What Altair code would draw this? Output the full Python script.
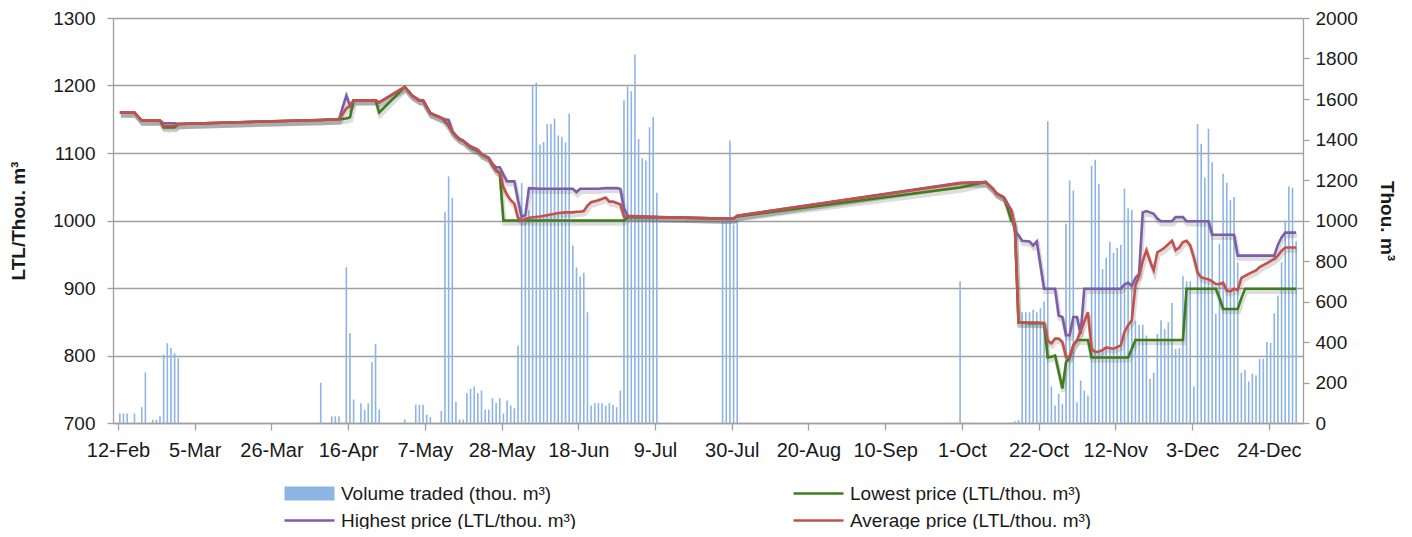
import altair as alt
import pandas as pd

# ---------------- data ----------------
START = "2014-02-12"          # day 0 of the day offsets below
END = "2015-01-01"

TITLE = "Information on Fulfilled Deals on the GET Baltic Exchange, Q1-Q4 of 2014"
VOL = "Volume traded (thou. m³)"
LOW = "Lowest price (LTL/thou. m³)"
HIGH = "Highest price (LTL/thou. m³)"
AVG = "Average price (LTL/thou. m³)"

# x-axis tick dates (labels shown as d-Mon)
tick_dates = ["2014-02-12", "2014-03-05", "2014-03-26", "2014-04-16", "2014-05-07",
              "2014-05-28", "2014-06-18", "2014-07-09", "2014-07-30", "2014-08-20",
              "2014-09-10", "2014-10-01", "2014-10-22", "2014-11-12", "2014-12-03",
              "2014-12-24"]
left_ticks = [700, 800, 900, 1000, 1100, 1200, 1300]
right_ticks = [0, 200, 400, 600, 800, 1000, 1200, 1400, 1600, 1800, 2000]

# traded volume, thou. m3 (day offset from 12-Feb-2014)
vol_day = ([0, 1, 2, 4, 6, 7, 9, 10, 11, 12, 13, 14, 15, 16]
           + [55, 58, 59, 60, 62, 63, 64, 66, 67, 68, 69, 70, 71]
           + [78, 81, 82, 83, 84, 85, 88, 89, 90, 91, 92, 93, 94, 95, 96, 97, 98, 99,
              100, 101, 102, 103, 104, 105, 106, 107, 108]
           + list(range(109, 148))
           + [165, 166, 167, 168, 169]
           + [230]
           + list(range(245, 323)))
vol_value = ([47, 47, 47, 47, 78, 250, 16, 16, 33, 338, 394, 370, 345, 320]
             + [198, 33, 33, 33, 769, 445, 116, 98, 66, 98, 300, 390, 66]
             + [17, 90, 90, 90, 41, 30, 60, 1041, 1218, 1111, 105, 17, 17, 148, 169, 180, 148, 160,
                66, 66, 123, 99, 123, 46, 111, 86, 73]
             + [383, 1185, 1020, 1050, 1665, 1680, 1375, 1388, 1477, 1477, 1502, 1420, 1413, 1385,
                1528, 877, 768, 723, 742, 547, 86, 98, 98, 98, 86, 98, 90, 78, 160, 1593, 1662,
                1638, 1820, 1403, 1307, 1296, 1460, 1510, 1137]
             + [1000, 1000, 1395, 980, 1000]
             + [700]
             + [9, 15, 547, 547, 547, 559, 547, 567, 600, 1490, 180, 86, 144, 95, 984, 1198, 1148,
                103, 210, 160, 136, 1270, 1300, 1181, 760, 816, 895, 840, 865, 880, 1157, 1060, 1053,
                505, 485, 485, 432, 218, 248, 440, 508, 465, 498, 593, 366, 370, 725, 700, 700, 180,
                1477, 1379, 1211, 1453, 1288, 539, 883, 1231, 1186, 1102, 1116, 792, 248, 263, 205,
                244, 236, 317, 317, 400, 395, 542, 630, 794, 1000, 1168, 1161, 898])

# prices, LTL/thou. m3 (day offset from 12-Feb-2014)
price_day = ([0, 4, 6, 11, 12, 15, 16]
             + [55, 60, 62, 63, 64, 70, 71]
             + [78, 80, 82, 83, 84, 85, 88, 89, 90, 91, 92, 93, 94, 96, 98, 99, 100, 101, 102,
                103, 104, 105, 106, 107, 108]
             + [109, 110, 111, 112, 115, 118, 120, 122, 124, 125, 126, 127, 128, 129, 131, 133,
                134, 135, 136, 137, 138]
             + [139, 147, 165, 168, 169]
             + [230, 237, 239, 240, 242, 243, 244, 245]
             + [246, 247, 249, 250, 251, 253, 254, 255, 256, 257, 258, 259, 260, 261]
             + [262, 263, 264, 265, 266, 267, 268, 269, 270, 272, 274, 275, 276, 277, 278, 279,
                280, 281, 282, 283, 284, 285, 286, 287, 288, 289, 290, 291]
             + [292, 293, 294, 295, 296, 297, 298, 299, 300, 301, 302, 303, 304, 305, 306, 307,
                308, 309]
             + [311, 312, 314, 316, 317, 318, 319, 322])
price_low = ([1160, 1160, 1148, 1148, 1138, 1138, 1143]
             + [1149, 1150, 1151, 1153, 1178, 1178, 1160]
             + [1198, 1185, 1178, 1178, 1168, 1159, 1152, 1147, 1140, 1131, 1125, 1120, 1118, 1108,
                1103, 1098, 1095, 1092, 1082, 1074, 1070, 1000, 1000, 1000, 1000]
             + [1000] * 21
             + [1005, 1005, 1003, 1003, 1006]
             + [1049, 1057, 1047, 1040, 1034, 1018, 1000, 995]
             + [849, 849, 848, 848, 848, 848, 797, 798, 800, 776, 751, 790, 797, 815]
             + [823, 823, 823, 823, 797, 797, 797, 797, 797, 797, 797, 797, 797, 810, 823, 823,
                823, 823, 823, 823, 823, 823, 823, 823, 823, 823, 823, 823]
             + [899, 899, 899, 899, 899, 899, 899, 899, 899, 885, 869, 869, 869, 869, 869, 885,
                899, 899]
             + [899, 899, 899, 899, 899, 899, 899, 899])
price_high = ([1160, 1160, 1148, 1148, 1144, 1144, 1143]
              + [1149, 1150, 1185, 1170, 1178, 1178, 1175]
              + [1198, 1185, 1178, 1178, 1168, 1159, 1152, 1150, 1149, 1133, 1126, 1121, 1118, 1110,
                 1105, 1099, 1096, 1093, 1084, 1079, 1079, 1068, 1058, 1058, 1058]
              + [1030, 1005, 1008, 1048, 1047, 1047, 1047, 1047, 1047, 1042, 1047, 1047, 1047, 1047,
                 1047, 1048, 1048, 1048, 1048, 1047, 1018]
              + [1007, 1005, 1003, 1003, 1007]
              + [1056, 1057, 1047, 1040, 1034, 1025, 1015, 985]
              + [978, 970, 969, 963, 969, 899, 899, 899, 899, 859, 857, 830, 830, 857]
              + [857, 832, 899, 899, 899, 899, 899, 899, 899, 899, 899, 905, 908, 903, 915, 921,
                 1012, 1014, 1012, 1010, 1003, 999, 999, 999, 999, 1005, 1005, 1005]
              + [999, 999, 999, 999, 999, 999, 999, 979, 979, 979, 979, 979, 979, 979, 948, 948,
                 948, 948]
              + [948, 948, 948, 948, 964, 975, 982, 982])
price_avg = ([1160, 1160, 1148, 1148, 1140, 1140, 1143]
             + [1149, 1150, 1166, 1170, 1178, 1178, 1175]
             + [1198, 1185, 1178, 1178, 1168, 1159, 1152, 1148, 1141, 1131, 1125, 1121, 1118, 1109,
                1104, 1098, 1095, 1092, 1083, 1075, 1071, 1049, 1038, 1030, 1025]
             + [1004, 1000, 1002, 1004, 1006, 1009, 1011, 1012, 1012, 1013, 1013, 1014, 1022, 1027,
                1030, 1034, 1028, 1028, 1026, 1024, 1006]
             + [1006, 1005, 1003, 1003, 1007]
             + [1055, 1057, 1047, 1040, 1034, 1022, 1016, 990]
             + [849, 849, 849, 849, 849, 848, 822, 818, 825, 825, 820, 798, 798, 815]
             + [822, 837, 850, 864, 810, 805, 806, 808, 812, 810, 815, 835, 845, 852, 904, 918,
                940, 956, 940, 926, 953, 956, 960, 965, 970, 956, 960, 968]
             + [970, 963, 945, 923, 916, 914, 913, 910, 906, 906, 908, 896, 895, 899, 897, 915,
                918, 921]
             + [926, 931, 937, 943, 948, 955, 960, 960])

assert len(vol_day) == len(vol_value), (len(vol_day), len(vol_value))
assert len(price_day) == len(price_low) == len(price_high) == len(price_avg), (
    len(price_day), len(price_low), len(price_high), len(price_avg))

# ---------------- styling ----------------
FONT = "Liberation Sans, Arial, Helvetica, sans-serif"
TXT = "#1a1a1a"
GRAY = "#a0a0a0"
C_VOL = "#8db4e2"
C_LOW = "#3e7d1b"
C_HIGH = "#7c5ea8"
C_AVG = "#c4504c"


def ms(s):
    return int(pd.Timestamp(s, tz="UTC").timestamp() * 1000)


DAY0 = ms(START)
DAY = 24 * 3600 * 1000
HALF = DAY // 2     # Excel centres each day's column in its day slot


def t_of(d):
    return DAY0 + d * DAY + HALF


vol_df = pd.DataFrame({"t": [t_of(d) for d in vol_day], "volume": vol_value, "series": VOL})
price_df = pd.concat([
    pd.DataFrame({"t": [t_of(d) for d in price_day], "price": vals, "series": name})
    for name, vals in [(LOW, price_low), (HIGH, price_high), (AVG, price_avg)]
], ignore_index=True)

x_enc = alt.X(
    "t:T",
    scale=alt.Scale(type="utc", domain=[ms(START), ms(END)]),
    axis=alt.Axis(values=[ms(d) for d in tick_dates], format="%-d-%b", labelFlush=False,
                  labelOverlap=False, grid=False, tickSize=7, tickWidth=1.3, tickColor=GRAY,
                  domainColor=GRAY, domainWidth=1.3, labelFontSize=20, labelColor=TXT,
                  labelPadding=10, title=None),
)

left_axis = alt.Axis(orient="left", values=left_ticks, format="d", grid=True, gridColor=GRAY,
                     gridWidth=1.3, domainColor=GRAY, domainWidth=1.3, tickColor=GRAY,
                     tickWidth=1.3, tickSize=6, labelFontSize=19, labelColor=TXT, labelPadding=12,
                     title="LTL/Thou. m³", titleFontSize=19, titleFontWeight="bold",
                     titleColor=TXT, titlePadding=24)
right_axis = alt.Axis(orient="right", values=right_ticks, format="d", grid=False,
                      domainColor=GRAY, domainWidth=1.3, tickColor=GRAY, tickWidth=1.3,
                      tickSize=6, labelFontSize=19, labelColor=TXT, labelPadding=6,
                      title="Thou. m³", titleFontSize=19, titleFontWeight="bold",
                      titleColor=TXT, titlePadding=19)


def legend(x, y, shape):
    return alt.Legend(orient="none", legendX=x, legendY=y, title=None, symbolType=shape,
                      symbolSize=400, symbolStrokeWidth=2.6, labelOffset=20, labelFontSize=19,
                      labelColor=TXT, labelFont=FONT, labelLimit=600, padding=0)


LINE_SHAPE = "M-2.5,0H2.5"
RECT_SHAPE = "M-2.5,-0.7H2.5V0.7H-2.5Z"

bars = alt.Chart(vol_df).mark_bar(size=1.6).encode(
    x=x_enc,
    y=alt.Y("volume:Q", scale=alt.Scale(domain=[0, 2000], nice=False), axis=right_axis),
    color=alt.Color("series:N", scale=alt.Scale(domain=[VOL], range=[C_VOL]),
                    legend=legend(185, 464, RECT_SHAPE)),
)

y_price = alt.Y("price:Q", scale=alt.Scale(domain=[700, 1300], nice=False, zero=False),
                axis=left_axis)

shadow = alt.Chart(price_df).mark_line(strokeWidth=4.5, opacity=0.2, yOffset=3, xOffset=1,
                                       color="#555555").encode(
    x=x_enc, y=y_price, detail="series:N")


def price_line(name, colour, lx, ly):
    return alt.Chart(price_df).transform_filter(alt.datum.series == name).mark_line(
        strokeWidth=2.6).encode(
        x=x_enc, y=y_price,
        color=alt.Color("series:N", scale=alt.Scale(domain=[name], range=[colour]),
                        legend=legend(lx, ly, LINE_SHAPE)),
    )


lines = alt.layer(
    shadow,
    price_line(LOW, C_LOW, 694, 464),
    price_line(HIGH, C_HIGH, 185, 491),
    price_line(AVG, C_AVG, 694, 491),
).resolve_scale(color="independent")

chart = alt.layer(bars, lines).resolve_scale(
    y="independent", color="independent"
).properties(
    width=1190, height=405,
    autosize=alt.AutoSizeParams(type="none"),
    padding={"left": 105, "top": 10, "right": 101, "bottom": 106},
    title=alt.TitleParams(TITLE, fontSize=22, fontWeight="bold", font=FONT, color="#0d0d0d",
                          anchor="middle", dx=24, offset=4),
).configure(font=FONT).configure_view(stroke=None)

chart.save("out.html", embed_options={"renderer": "svg", "actions": False})
